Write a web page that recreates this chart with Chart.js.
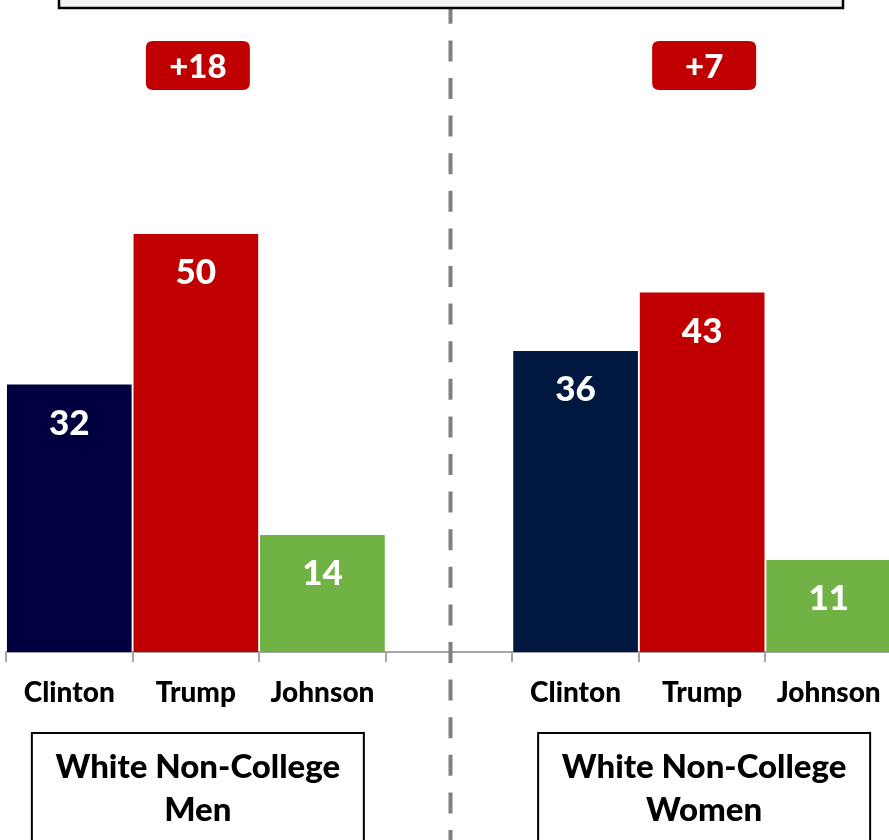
<!DOCTYPE html>
<html><head><meta charset="utf-8">
<script src="https://cdn.jsdelivr.net/npm/chart.js@4/dist/chart.umd.min.js"></script>
<style>
html,body{margin:0;padding:0;background:#fff;overflow:hidden;width:889px;height:840px}
#wrap{position:relative;width:895px;height:840px}
canvas{display:block}
</style></head>
<body><div id="wrap"><canvas id="c" width="895" height="840"></canvas></div>
<script>
const candidates = ['Clinton', 'Trump', 'Johnson'];
const menValues = [32, 50, 14];
const womenValues = [36, 43, 11];
const groupLabels = [['White Non-College', 'Men'], ['White Non-College', 'Women']];
const margins = ['+18', '+7'];
const menColors = ['#000040', '#C00000', '#70B244'];
const womenColors = ['#001740', '#C00000', '#70B244'];

const labels = [...candidates, '', ...candidates];
const values = [...menValues, null, ...womenValues];
const colors = [...menColors, 'rgba(0,0,0,0)', ...womenColors];

const FONT = 'Lato, "Open Sans", sans-serif';
const W = '900';

function roundRect(ctx, x, y, w, h, r) {
  ctx.beginPath();
  ctx.moveTo(x + r, y);
  ctx.lineTo(x + w - r, y);
  ctx.quadraticCurveTo(x + w, y, x + w, y + r);
  ctx.lineTo(x + w, y + h - r);
  ctx.quadraticCurveTo(x + w, y + h, x + w - r, y + h);
  ctx.lineTo(x + r, y + h);
  ctx.quadraticCurveTo(x, y + h, x, y + h - r);
  ctx.lineTo(x, y + r);
  ctx.quadraticCurveTo(x, y, x + r, y);
  ctx.closePath();
}

const overlay = {
  id: 'overlay',
  afterDatasetsDraw(chart) {
    const ctx = chart.ctx;
    const meta = chart.getDatasetMeta(0);
    ctx.save();
    ctx.fillStyle = '#ffffff';
    ctx.font = W + ' 35px ' + FONT;
    ctx.textAlign = 'center';
    ctx.textBaseline = 'middle';
    meta.data.forEach((el, i) => {
      if (values[i] == null) return;
      ctx.fillText(String(values[i]), el.x, el.y + 39);
    });
    ctx.restore();
  },
  afterDraw(chart) {
    const ctx = chart.ctx;
    const xs = chart.scales.x;
    ctx.save();
    const sepX = xs.getPixelForValue(3) + 1.5;
    ctx.strokeStyle = '#808080';
    ctx.lineWidth = 4;
    ctx.setLineDash([21, 16.6]);
    ctx.beginPath();
    ctx.moveTo(sepX, 2.8);
    ctx.lineTo(sepX, 840);
    ctx.stroke();
    ctx.setLineDash([]);
    ctx.fillStyle = '#F2F2F2';
    ctx.fillRect(59, -20, 784, 28);
    ctx.strokeStyle = '#000';
    ctx.lineWidth = 2.5;
    ctx.strokeRect(59, -20, 784, 28);
    [1, 5].forEach((idx, g) => {
      const cx = xs.getPixelForValue(idx) + 2;
      ctx.fillStyle = '#C00000';
      roundRect(ctx, cx - 52, 41, 104, 49, 7);
      ctx.fill();
      ctx.fillStyle = '#fff';
      ctx.font = W + ' 33px ' + FONT;
      ctx.textAlign = 'center';
      ctx.textBaseline = 'middle';
      ctx.fillText(margins[g], cx, 67);
      ctx.fillStyle = '#fff';
      ctx.fillRect(cx - 166, 733, 332, 130);
      ctx.strokeStyle = '#000';
      ctx.lineWidth = 2;
      ctx.strokeRect(cx - 166, 733, 332, 130);
      ctx.fillStyle = '#000';
      ctx.font = W + ' 33px ' + FONT;
      ctx.fillText(groupLabels[g][0], cx, 767);
      ctx.fillText(groupLabels[g][1], cx, 810);
    });
    ctx.restore();
  }
};

new Chart(document.getElementById('c'), {
  type: 'bar',
  data: {
    labels: labels,
    datasets: [{
      data: values,
      backgroundColor: colors,
      borderWidth: 0,
      barPercentage: 1,
      categoryPercentage: 0.985
    }]
  },
  options: {
    responsive: false,
    animation: false,
    devicePixelRatio: 1,
    layout: { padding: { left: 6, right: 3, top: 0, bottom: 0 } },
    plugins: { legend: { display: false }, tooltip: { enabled: false }, title: { display: false } },
    scales: {
      x: {
        grid: { display: true, drawOnChartArea: false, drawTicks: true, tickLength: 10, color: '#A6A6A6', lineWidth: 2, offset: true },
        border: { display: true, color: '#A6A6A6', width: 2 },
        ticks: { font: { family: FONT, weight: W, size: 28 }, color: '#000', padding: 14, maxRotation: 0, autoSkip: false },
        afterFit(s) { s.height = 188; }
      },
      y: { display: false, min: 0, max: 78 }
    }
  },
  plugins: [overlay]
});
</script>
</body></html>
